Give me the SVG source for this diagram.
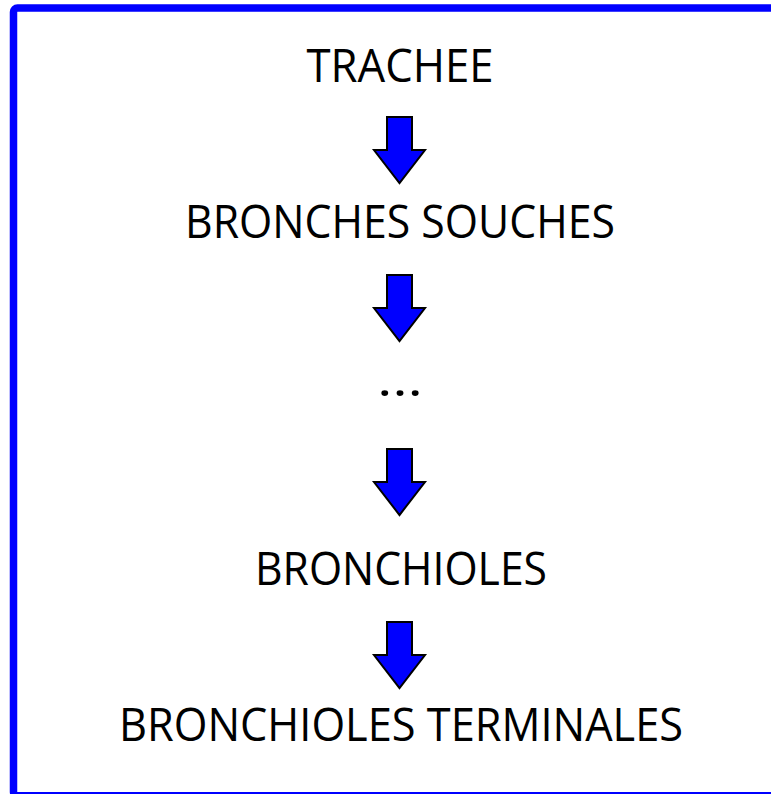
<svg xmlns="http://www.w3.org/2000/svg" width="771" height="794" viewBox="0 0 771 794">
  <style>
    .frame { fill: #FFFFFF; stroke: #0000FF; stroke-width: 7.5; }
    .label { font-family: "Open Sans", "Liberation Sans", sans-serif; font-size: 45px; fill: #000000; text-anchor: middle; }
    .arrow { fill: #0000FF; stroke: #000000; stroke-width: 2; stroke-linejoin: miter; }
  </style>
  <defs>
    <!-- down arrow, top of shaft at origin -->
    <path id="down-arrow" d="M -12.5 0 L 12.5 0 L 12.5 33 L 25.5 33 L 0 66 L -25.5 33 L -12.5 33 Z"/>
  </defs>

  <rect class="frame" x="13.5" y="8" width="800" height="787.75" rx="4" ry="4"/>

  <g id="connectors">
    <use href="#down-arrow" class="arrow" x="399.5" y="117"/>
    <use href="#down-arrow" class="arrow" x="399.5" y="275"/>
    <use href="#down-arrow" class="arrow" x="399.5" y="449"/>
    <use href="#down-arrow" class="arrow" x="399.5" y="622"/>
  </g>

  <g id="trachee">
    <text class="label" x="400" y="82" textLength="187" lengthAdjust="spacingAndGlyphs">TRACHEE</text>
  </g>
  <g id="bronches-souches">
    <text class="label" x="400" y="238" textLength="430" lengthAdjust="spacingAndGlyphs">BRONCHES SOUCHES</text>
  </g>
  <g id="ellipsis">
    <text class="label" x="400" y="396" font-size="50" textLength="46" lengthAdjust="spacingAndGlyphs">…</text>
  </g>
  <g id="bronchioles">
    <text class="label" x="401" y="585" textLength="292" lengthAdjust="spacingAndGlyphs">BRONCHIOLES</text>
  </g>
  <g id="bronchioles-terminales">
    <text class="label" x="401" y="741" textLength="564" lengthAdjust="spacingAndGlyphs">BRONCHIOLES TERMINALES</text>
  </g>
</svg>
